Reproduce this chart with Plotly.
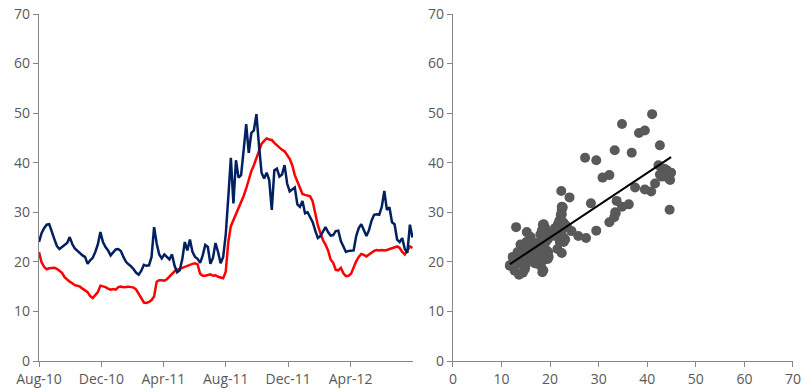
import numpy as np
import pandas as pd
import plotly.graph_objects as go
from plotly.subplots import make_subplots

# Observations every 5 days, Aug 2010 - Jul 2012
dates = pd.date_range("2010-08-01", periods=147, freq="5D")

implied = [  # navy series
    24.0, 25.8, 26.8, 27.5, 27.6, 26.3, 24.6, 23.2, 22.6, 23.0,
    23.4, 23.8, 25.0, 23.6, 22.7, 22.2, 21.7, 21.3, 21.0, 19.6,
    20.3, 20.8, 22.0, 23.5, 26.0, 24.0, 23.0, 22.3, 21.3, 21.8,
    22.5, 22.6, 22.2, 21.0, 20.0, 19.5, 19.1, 18.5, 17.8, 17.4,
    18.2, 19.4, 19.2, 19.3, 21.0, 27.0, 23.7, 21.5, 20.7, 21.5,
    21.0, 20.5, 21.5, 19.2, 17.9, 18.3, 20.5, 24.0, 22.3, 24.5,
    22.0, 21.0, 20.6, 19.8, 21.3, 23.4, 23.0, 19.6, 20.8, 23.8,
    22.0, 19.7, 21.0, 25.5, 33.0, 41.0, 31.8, 40.5, 37.0, 37.5,
    42.5, 47.8, 42.0, 46.0, 46.5, 49.8, 43.5, 38.0, 36.8, 38.0,
    36.5, 30.5, 38.5, 38.8, 37.2, 37.6, 39.5, 35.8, 34.2, 34.6,
    35.0, 31.6, 31.1, 32.3, 29.8, 30.0, 29.0, 28.0, 26.3, 24.8,
    25.2, 26.2, 27.0, 26.0, 25.3, 25.4, 26.2, 26.3, 24.2, 23.1,
    22.0, 22.2, 22.3, 22.3, 25.2, 26.8, 27.6, 26.3, 25.2, 26.4,
    28.3, 29.5, 29.6, 29.5, 31.1, 34.3, 30.5, 31.0, 28.0, 27.6,
    24.5, 24.0, 24.8, 22.6, 21.8, 27.5, 24.9,
]

realized = [  # red series
    22.0, 19.9, 19.0, 18.5, 18.7, 18.7, 18.8, 18.6, 18.2, 17.8,
    16.9, 16.4, 16.0, 15.7, 15.3, 15.2, 15.0, 14.6, 14.3, 13.9,
    13.1, 12.7, 13.3, 13.9, 15.2, 15.1, 14.9, 14.6, 14.4, 14.5,
    14.4, 14.9, 15.0, 14.9, 15.0, 15.0, 14.9, 14.8, 14.4, 13.6,
    12.7, 11.8, 11.7, 11.9, 12.3, 13.0, 16.0, 16.3, 16.3, 16.2,
    16.5, 17.0, 17.7, 18.1, 18.4, 18.6, 18.9, 19.1, 19.3, 19.5,
    19.6, 19.7, 19.5, 17.6, 17.2, 17.2, 17.3, 17.5, 17.2, 17.3,
    17.0, 16.9, 16.7, 18.0, 24.0, 27.2, 28.4, 29.5, 30.8, 32.2,
    33.3, 34.8, 36.8, 38.3, 39.5, 41.0, 42.6, 43.8, 44.4, 44.9,
    44.7, 44.6, 44.0, 43.5, 43.0, 42.6, 42.3, 41.6, 40.8, 39.5,
    37.5, 36.2, 34.8, 33.7, 33.5, 33.4, 33.2, 32.2, 29.5, 27.4,
    25.8, 24.4, 23.5, 22.3, 20.5, 19.8, 18.4, 18.3, 18.8, 17.7,
    17.1, 17.2, 17.6, 19.0, 20.1, 21.0, 21.6, 21.4, 21.1, 21.5,
    21.9, 22.2, 22.4, 22.3, 22.4, 22.3, 22.4, 22.6, 22.7, 22.9,
    23.1, 22.8, 22.0, 21.5, 22.4, 23.1, 22.8,
]

tick_dates = ["2010-08-01", "2010-12-01", "2011-04-01",
              "2011-08-01", "2011-12-01", "2012-04-01"]
tick_labels = ["Aug-10", "Dec-10", "Apr-11", "Aug-11", "Dec-11", "Apr-12"]

NAVY = "#002060"
RED = "#FF0000"
AXIS = "#868686"
TEXT = "#595959"

fig = make_subplots(rows=1, cols=2)

fig.add_trace(go.Scatter(x=dates, y=realized, mode="lines",
                         line=dict(color=RED, width=2.5)), row=1, col=1)
fig.add_trace(go.Scatter(x=dates, y=implied, mode="lines",
                         line=dict(color=NAVY, width=2.5)), row=1, col=1)

fig.add_trace(go.Scatter(x=realized, y=implied, mode="markers",
                         marker=dict(color="#595959", size=10)), row=1, col=2)

# least-squares fit of implied on realized
rx = np.array(realized)
ry = np.array(implied)
slope, intercept = np.polyfit(rx, ry, 1)
fx = np.array([rx.min(), rx.max()])
fig.add_trace(go.Scatter(x=fx, y=slope * fx + intercept, mode="lines",
                         line=dict(color="black", width=2)), row=1, col=2)

axis_common = dict(showgrid=False, zeroline=False, showline=True,
                   linecolor=AXIS, linewidth=1.3, ticks="outside",
                   ticklen=5, tickcolor=AXIS, tickwidth=1.3, automargin=False,
                   tickfont=dict(color=TEXT, size=14, family="Open Sans"))

fig.update_xaxes(**axis_common)
fig.update_yaxes(**axis_common, range=[0, 70], dtick=10)

fig.update_xaxes(type="date", range=["2010-08-01", "2012-08-01"],
                 tickvals=tick_dates, ticktext=tick_labels,
                 domain=[0.0, 0.496], row=1, col=1)
fig.update_xaxes(range=[0, 70], dtick=10, domain=[0.549, 1.0], row=1, col=2)

fig.update_layout(
    width=803, height=390,
    margin=dict(l=39, r=10, t=14, b=29),
    showlegend=False,
    plot_bgcolor="white", paper_bgcolor="white",
)

fig.write_html("out.html")
